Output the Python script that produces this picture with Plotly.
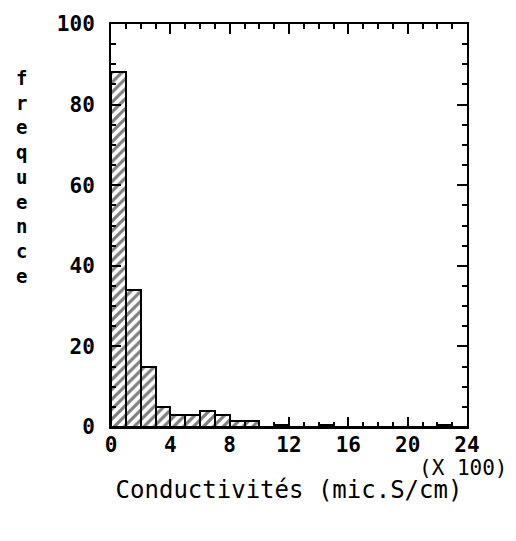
import plotly.graph_objects as go

# Histogram of conductivity (classes of 100 µS/cm, axis in hundreds)
bin_left = list(range(0, 24))
frequence = [88, 34, 15, 5, 3, 3, 4, 3, 1.5, 1.5, 0, 0.5,
             0, 0, 0.5, 0, 0, 0, 0, 0, 0, 0, 0.5, 0]
x_ticks = [0, 4, 8, 12, 16, 20, 24]
y_ticks = [0, 20, 40, 60, 80, 100]

FONT = "DejaVu Sans Mono"

centers = [b + 0.5 for b in bin_left]

fig = go.Figure()
fig.add_trace(go.Bar(
    x=centers,
    y=frequence,
    width=1,
    marker=dict(
        color="white",
        line=dict(color="black", width=2),
        pattern=dict(shape="/", fgcolor="black", bgcolor="white",
                     size=7, solidity=0.45),
    ),
    showlegend=False,
))

axis_common = dict(
    showline=True, linecolor="black", linewidth=2, mirror="allticks",
    ticks="inside", tickcolor="black", tickwidth=2,
    showgrid=False, zeroline=False,
    tickfont=dict(family=FONT, size=21, color="black", weight="bold"),
)

fig.update_xaxes(
    range=[0, 24], tickvals=x_ticks, ticklen=10,
    minor=dict(dtick=1, tick0=0, ticks="inside", ticklen=5,
               tickcolor="black", tickwidth=2, showgrid=False),
    title=dict(text="Conductivités (mic.S/cm)",
               font=dict(family=FONT, size=24, color="black"), standoff=25),
    ticklabelstandoff=-2,
    **axis_common,
)
fig.update_yaxes(
    range=[0, 100], tickvals=y_ticks, ticklen=10,
    minor=dict(dtick=5, tick0=0, ticks="inside", ticklen=5,
               tickcolor="black", tickwidth=2, showgrid=False),
    ticklabelstandoff=10,
    **axis_common,
)

fig.add_annotation(
    text="(X 100)", xref="paper", yref="paper", x=1.12, y=0,
    xanchor="right", yanchor="top", yshift=-27, showarrow=False,
    font=dict(family=FONT, size=21, color="black"),
)
fig.add_annotation(
    text="<br>".join("frequence"), xref="paper", yref="paper",
    x=0, y=0.62, xanchor="center", yanchor="middle", xshift=-90,
    showarrow=False, font=dict(family=FONT, size=19, color="black", weight="bold"),
)

fig.update_layout(
    width=516, height=541,
    margin=dict(l=111, r=49, t=22, b=114),
    plot_bgcolor="white", paper_bgcolor="white",
    bargap=0,
)

fig.write_html("out.html")
